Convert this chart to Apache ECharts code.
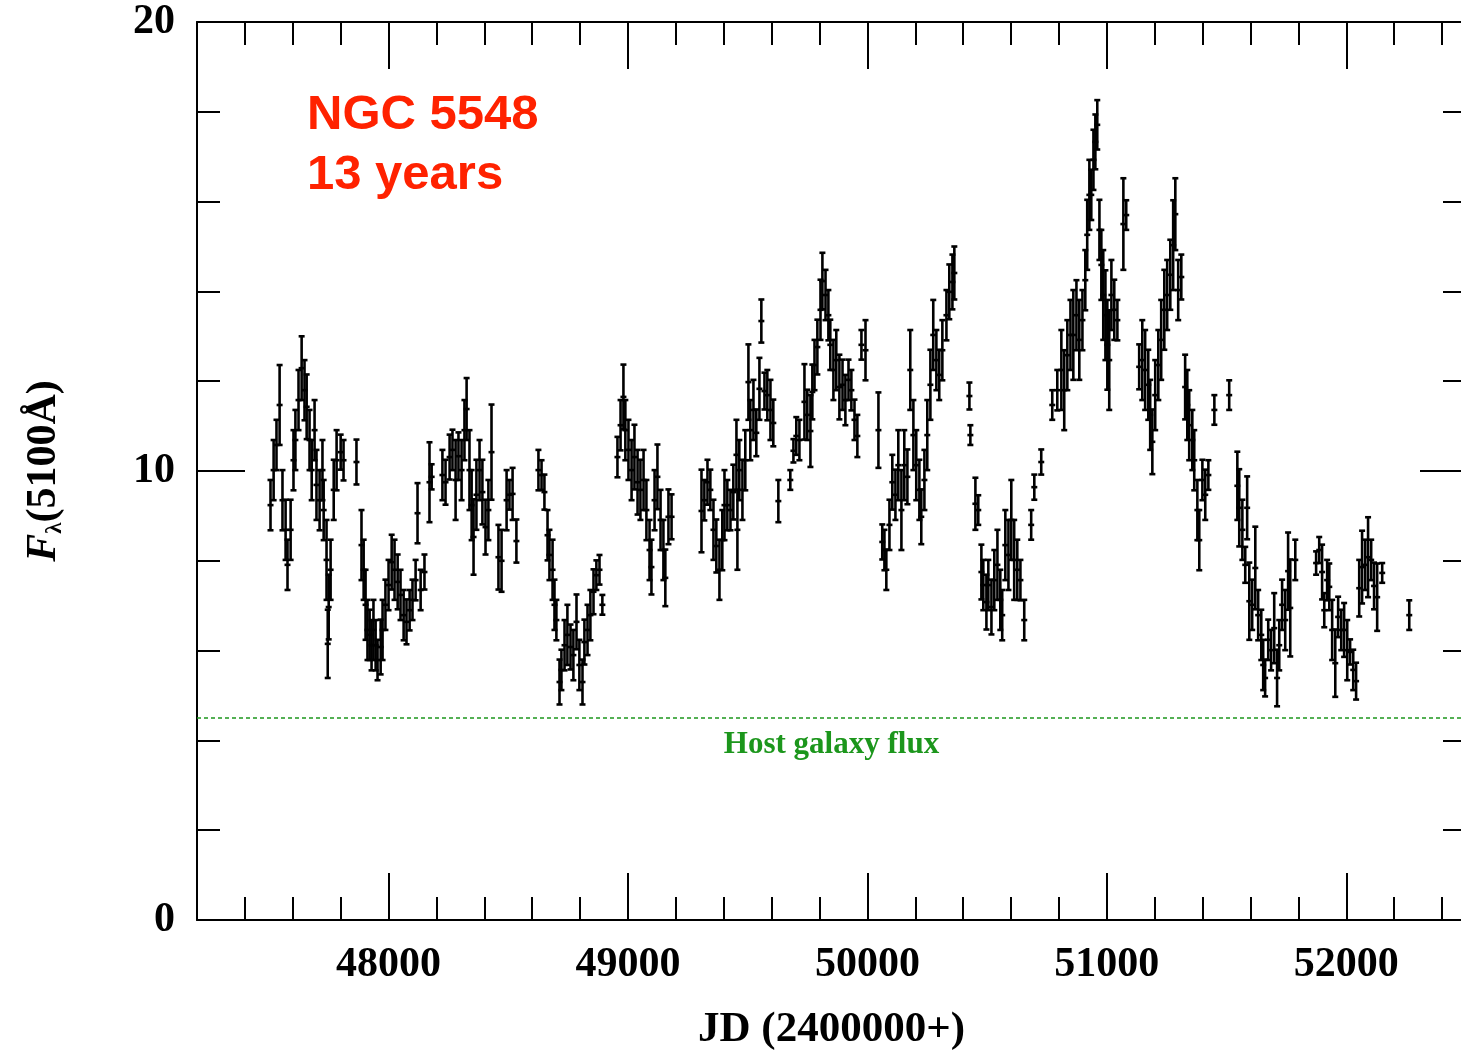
<!DOCTYPE html>
<html>
<head>
<meta charset="utf-8">
<script src="https://cdn.jsdelivr.net/npm/echarts@6/dist/echarts.min.js"></script>
<style>
  html, body { margin: 0; padding: 0; background: #fff; }
  #chart { width: 1461px; height: 1051px; }
</style>
</head>
<body>
<div id="chart"></div>
<script>
// ---- Data ----
const jd = [
47507,47520,47532,47545,47557,47570,47578,47591,47603,47611,47624,47637,47649,47658,47670,47679,47691,47699,47712,47724,
47729,47741,47750,47746,47758,47771,47783,47800,47812,47866,47887,47896,47904,47912,47921,47929,47937,47946,47954,47967,
47975,47987,48000,48013,48025,48038,48050,48063,48075,48088,48100,48113,48121,48134,48150,48171,48180,48225,48238,48255,
48267,48280,48292,48305,48317,48326,48338,48347,48355,48367,48380,48392,48405,48417,48430,48459,48472,48493,48505,48518,
48534,48626,48639,48651,48664,48672,48685,48693,48701,48714,48722,48735,48747,48760,48772,48785,48797,48810,48818,48831,
48843,48856,48868,48881,48893,48956,48969,48981,48989,49002,49015,49027,49040,49052,49065,49077,49090,49098,49111,49123,
49136,49148,49156,49169,49182,49307,49319,49332,49344,49357,49369,49382,49394,49403,49415,49428,49440,49453,49457,49465,
49478,49490,49503,49511,49524,49536,49549,49557,49570,49582,49595,49607,49628,49678,49691,49703,49716,49737,49749,49762,
49770,49779,49791,49804,49812,49825,49837,49845,49858,49870,49883,49896,49908,49921,49933,49946,49958,49975,49992,50046,
50062,50071,50079,50092,50104,50117,50129,50142,50154,50167,50179,50192,50204,50217,50225,50238,50250,50263,50275,50288,
50300,50313,50330,50342,50355,50363,50426,50430,50451,50463,50476,50484,50497,50505,50518,50530,50543,50555,50563,50576,
50589,50601,50613,50626,50639,50655,50684,50697,50726,50772,50793,50810,50822,50835,50848,50860,50873,50885,50898,50910,
50918,50927,50935,50944,50952,50960,50969,50977,50985,50994,51002,51010,51019,51031,51044,51069,51081,51135,51148,51160,
51173,51181,51190,51202,51215,51227,51240,51252,51265,51277,51286,51298,51311,51327,51336,51344,51357,51365,51378,51386,
51399,51411,51424,51449,51511,51545,51553,51566,51578,51586,51595,51607,51620,51632,51645,51653,51661,51674,51686,51699,
51711,51720,51732,51745,51757,51766,51787,51874,51887,51899,51908,51920,51929,51941,51954,51966,51979,51991,52004,52016,
52029,52041,52054,52066,52079,52091,52104,52116,52129,52150,52263
];
const flux = [
9.24,10.02,10.58,11.47,9.35,8.69,7.91,8.69,10.24,10.69,11.58,12.29,11.80,11.43,10.69,10.02,10.91,9.69,9.35,10.02,
9.13,8.02,6.97,6.15,7.80,9.58,10.24,10.42,10.24,10.20,8.35,7.80,7.02,6.46,6.35,6.12,6.46,6.12,5.79,6.08,
6.46,7.02,7.46,7.97,7.80,7.53,7.24,6.79,6.64,6.90,7.13,7.57,9.06,7.35,7.75,9.75,9.87,9.91,9.75,10.31,
10.47,9.80,10.33,10.02,10.91,11.38,10.02,9.24,8.53,9.47,10.02,9.53,8.75,9.13,10.42,8.08,8.00,9.35,9.47,9.49,
8.44,10.02,9.91,9.53,8.57,8.13,7.80,7.02,6.68,5.30,5.57,6.12,6.35,6.08,5.90,6.64,5.68,5.30,6.19,6.46,
6.79,7.31,7.68,7.80,7.02,10.31,11.02,11.65,10.91,10.47,10.02,10.31,9.75,9.58,9.80,9.13,8.24,7.86,9.35,9.87,
8.91,8.24,7.62,8.98,8.98,9.11,9.35,9.75,9.58,8.69,8.33,7.80,8.46,9.24,9.24,9.13,9.53,10.36,8.69,10.02,
9.58,10.24,11.98,10.91,11.36,10.85,11.83,13.34,11.78,11.69,11.36,11.07,9.33,9.80,10.45,10.78,10.69,11.54,11.25,10.89,
11.76,12.36,12.76,13.59,14.23,13.92,13.47,12.81,12.25,12.47,11.87,11.92,11.58,12.03,11.80,11.14,10.78,12.81,12.69,10.91,
8.42,8.24,7.80,8.80,9.75,9.47,10.13,9.13,10.13,9.87,12.25,10.80,10.13,9.58,8.98,9.80,10.80,11.92,13.03,12.47,
12.14,12.69,13.47,13.99,14.21,14.41,11.67,10.80,9.27,9.13,7.75,7.46,7.08,7.46,6.97,7.57,7.91,7.13,6.79,8.35,
8.13,8.91,8.02,7.80,7.57,6.68,8.80,9.64,10.20,11.47,11.80,12.25,11.80,12.58,13.03,13.03,13.47,12.92,13.36,14.25,
15.26,16.15,16.15,16.93,17.33,17.71,15.37,14.59,13.92,13.47,12.81,12.47,13.92,13.59,13.36,15.50,15.70,12.32,12.47,12.25,
11.92,11.25,10.65,11.69,12.36,12.92,13.59,13.92,14.37,15.03,15.72,14.03,14.32,11.87,11.47,11.02,10.69,10.24,9.13,8.46,
9.80,9.47,9.91,11.36,11.69,9.67,9.18,8.69,7.91,9.18,7.10,7.02,7.84,6.79,6.35,5.68,5.39,6.24,6.01,6.50,
5.39,6.12,7.02,6.68,7.77,6.95,8.02,7.95,8.24,7.75,6.90,7.57,7.42,6.46,5.72,6.75,6.46,6.46,6.01,5.97,
5.57,5.32,7.39,7.86,7.91,8.08,8.02,7.44,7.19,7.73,6.79
];
const err = [
0.56,0.67,0.56,0.89,0.67,0.67,0.56,0.67,0.67,0.67,0.67,0.71,0.67,0.72,0.67,0.67,0.67,0.78,0.67,0.67,
0.67,0.89,0.72,0.76,0.67,0.67,0.67,0.39,0.45,0.50,0.78,0.67,0.78,0.67,0.56,0.56,0.67,0.56,0.45,0.61,
0.67,0.56,0.56,0.61,0.67,0.61,0.56,0.56,0.50,0.45,0.45,0.45,0.67,0.45,0.39,0.89,0.28,0.56,0.50,0.50,
0.45,0.89,0.53,0.67,0.67,0.69,0.89,0.78,0.84,0.78,0.67,0.72,0.61,0.67,1.06,0.72,0.69,0.67,0.33,0.58,
0.48,0.45,0.33,0.39,0.56,0.56,0.67,0.56,0.45,0.50,0.45,0.56,0.67,0.50,0.56,0.61,0.56,0.50,0.50,0.56,
0.56,0.50,0.33,0.33,0.22,0.45,0.56,0.72,0.67,0.67,0.67,0.72,0.72,0.67,0.67,0.67,0.67,0.61,0.67,0.72,
0.67,0.67,0.63,0.61,0.50,0.92,0.45,0.50,0.45,0.67,0.59,0.67,0.67,0.78,0.56,0.45,0.61,0.78,0.89,0.67,
0.67,0.67,0.84,0.67,0.67,0.52,0.69,0.48,0.41,0.56,0.67,0.52,0.47,0.22,0.26,0.42,0.45,0.84,0.56,0.80,
0.61,0.56,0.61,0.67,0.63,0.56,0.56,0.56,0.67,0.67,0.72,0.56,0.56,0.45,0.45,0.45,0.47,0.33,0.67,0.84,
0.39,0.45,0.45,0.56,0.61,0.56,0.78,0.89,0.78,0.61,0.89,0.78,0.78,0.67,0.61,0.67,0.78,0.78,0.78,0.67,
0.56,0.67,0.56,0.61,0.61,0.59,0.30,0.22,0.58,0.33,0.61,0.56,0.61,0.56,0.61,0.67,0.78,0.67,0.56,0.78,
0.78,0.89,0.89,0.67,0.45,0.45,0.33,0.28,0.28,0.33,0.45,0.89,0.89,0.78,0.78,1.00,0.78,0.89,0.67,0.67,
0.78,0.78,0.56,0.67,0.61,0.55,0.67,0.78,1.00,1.00,1.00,1.11,0.78,0.67,0.45,1.02,0.33,0.50,0.89,0.89,
0.78,0.78,0.72,0.78,0.78,0.89,0.89,0.78,0.78,1.00,0.80,0.67,0.50,0.72,0.78,0.78,0.67,0.67,0.67,0.67,
0.45,0.56,0.33,0.33,0.33,0.76,0.86,0.67,0.40,0.70,0.86,0.56,0.92,0.56,0.56,0.56,0.41,0.45,0.45,0.78,
0.63,0.56,0.56,0.67,0.86,1.08,0.45,0.26,0.29,0.61,0.38,0.45,0.52,0.67,0.75,0.45,0.45,0.60,0.67,0.28,
0.45,0.41,0.63,0.81,0.56,0.89,0.45,0.52,0.75,0.22,0.33
];
const hostFlux = 4.5;
const xMajorTicks = [48000, 49000, 50000, 51000, 52000];
const xMinorTicks = [47400,47600,47800,48200,48400,48600,48800,49200,49400,49600,49800,
                     50200,50400,50600,50800,51200,51400,51600,51800,52200,52400];
const yLabels = [0, 10, 20];
const yMinorTicks = [2, 4, 6, 8, 12, 14, 16, 18];

// ---- Chart ----
const chart = echarts.init(document.getElementById('chart'), null, { renderer: 'canvas' });
const X_MIN = 47200, X_MAX = 52500, Y_MIN = 0, Y_MAX = 20;
const LINE = { color: '#000', width: 2 };
const labelFont = { fontFamily: 'Liberation Serif', fontWeight: 'bold', fontSize: 42, color: '#000' };

function xAx(pos, ticks, len, showLine, showLabels) {
  return {
    type: 'value', position: pos, min: X_MIN, max: X_MAX,
    axisLine: { show: showLine, onZero: false, lineStyle: LINE },
    axisTick: { show: true, inside: true, length: len, customValues: ticks, lineStyle: LINE },
    axisLabel: showLabels ? Object.assign({ show: true, customValues: xMajorTicks, margin: 24,
      formatter: function (v) { return String(v); } }, labelFont) : { show: false },
    splitLine: { show: false }
  };
}
function yAx(pos, ticks, len, showLine, showLabels) {
  return {
    type: 'value', position: pos, min: Y_MIN, max: Y_MAX,
    axisLine: { show: showLine, onZero: false, lineStyle: LINE },
    axisTick: { show: true, inside: true, length: len, customValues: ticks, lineStyle: LINE },
    axisLabel: showLabels ? Object.assign({ show: true, customValues: yLabels, margin: 22,
      formatter: function (v) { return String(v); } }, labelFont) : { show: false },
    splitLine: { show: false }
  };
}

const xAxes = [
  xAx('bottom', xMajorTicks, 47, true, true),
  xAx('bottom', xMinorTicks, 23, false, false),
  xAx('top', xMajorTicks, 47, true, false),
  xAx('top', xMinorTicks, 23, false, false)
];
xAxes[0].name = 'JD (2400000+)';
xAxes[0].nameLocation = 'middle';
xAxes[0].nameGap = 88;
xAxes[0].nameTextStyle = { fontFamily: 'Liberation Serif', fontWeight: 'bold', fontSize: 43, color: '#000' };

const yAxes = [
  yAx('left', yLabels, 48, true, true),
  yAx('left', yMinorTicks, 23, false, false),
  yAx('right', yLabels, 46, false, false),
  yAx('right', yMinorTicks, 23, false, false)
];
yAxes[0].name = '{i|F}{s|λ}{n|(5100Å)}';
yAxes[0].nameLocation = 'middle';
yAxes[0].nameRotate = 90;
yAxes[0].nameGap = 130;
yAxes[0].nameTextStyle = {
  rich: {
    i: { fontFamily: 'Liberation Serif', fontWeight: 'bold', fontStyle: 'italic', fontSize: 42, color: '#000', lineHeight: 46 },
    s: { fontFamily: 'Liberation Serif', fontWeight: 'bold', fontSize: 23, color: '#000', lineHeight: 46, verticalAlign: 'bottom', padding: [14, 0, 0, 0] },
    n: { fontFamily: 'Liberation Serif', fontWeight: 'bold', fontSize: 42, color: '#000', lineHeight: 46 }
  }
};

const pts = jd.map((d, i) => [d, flux[i], err[i]]);

chart.setOption({
  animation: false,
  backgroundColor: '#fff',
  grid: { left: 197, width: 1269, top: 22, height: 898, containLabel: false, outerBoundsMode: 'none' },
  xAxis: xAxes,
  yAxis: yAxes,
  graphic: [{
    type: 'text', left: 307, top: 85, z: 10,
    style: {
      text: 'NGC 5548\n13 years',
      font: 'bold 49px "Liberation Sans", Arial, sans-serif',
      fill: '#ff2200', lineHeight: 60
    }
  }],
  series: [{
    type: 'custom',
    xAxisIndex: 0, yAxisIndex: 0,
    data: pts,
    encode: { x: 0, y: 1 },
    clip: true,
    renderItem: function (params, api) {
      const x = api.value(0), y = api.value(1), e = api.value(2);
      const lo = api.coord([x, y - e]);
      const hi = api.coord([x, y + e]);
      const mid = api.coord([x, y]);
      const w = 3;
      const st = { stroke: '#000', lineWidth: 2.6 };
      return {
        type: 'group',
        children: [
          { type: 'line', shape: { x1: lo[0], y1: lo[1], x2: hi[0], y2: hi[1] }, style: st },
          { type: 'line', shape: { x1: lo[0] - w, y1: lo[1], x2: lo[0] + w, y2: lo[1] }, style: st },
          { type: 'line', shape: { x1: hi[0] - w, y1: hi[1], x2: hi[0] + w, y2: hi[1] }, style: st },
          { type: 'line', shape: { x1: mid[0] - w, y1: mid[1], x2: mid[0] + w, y2: mid[1] }, style: st }
        ]
      };
    },
    markLine: {
      silent: true,
      symbol: ['none', 'none'],
      lineStyle: { color: '#1c961c', type: [4, 3], width: 1.5 },
      label: {
        show: true, position: 'insideMiddleBottom', distance: 12,
        formatter: 'Host galaxy flux',
        fontFamily: 'Liberation Serif', fontWeight: 'bold', fontSize: 31, color: '#1c961c'
      },
      data: [{ yAxis: hostFlux }]
    }
  }]
});
</script>
</body>
</html>
